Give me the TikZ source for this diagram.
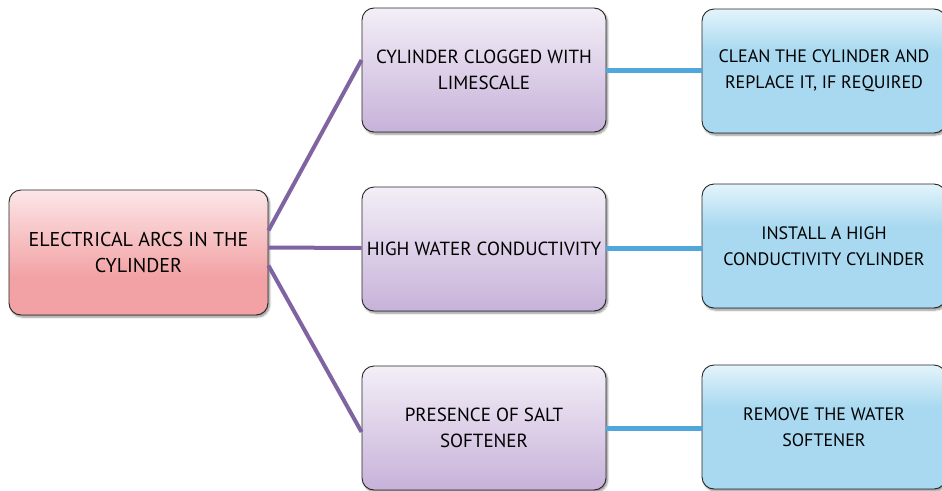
\documentclass[tikz,border=0pt]{standalone}
\usepackage{fontspec}
\setmainfont{PT Sans}
\usetikzlibrary{shadows.blur}

\definecolor{rootTop}{HTML}{FCE6E8}
\definecolor{rootBot}{HTML}{F2A2A4}
\definecolor{causeTop}{HTML}{F3EEF7}
\definecolor{causeBot}{HTML}{C7B2D9}
\definecolor{fixTop}{HTML}{E4F4FB}
\definecolor{fixBot}{HTML}{A8D9F0}
\definecolor{causeLine}{HTML}{8064A2}
\definecolor{fixLine}{HTML}{4FA7DC}

% light band on top, flat colour below
\pgfdeclareverticalshading{fixshade}{100bp}{color(0bp)=(fixBot); color(58bp)=(fixBot); color(75bp)=(fixTop); color(100bp)=(fixTop)}
\pgfdeclareverticalshading{rootshade}{100bp}{color(0bp)=(rootBot); color(40bp)=(rootBot); color(75bp)=(rootTop); color(100bp)=(rootTop)}

\begin{document}
\begin{tikzpicture}[x=1pt,y=-1pt]
  \tikzset{box/.style = {draw=black!85, line width=0.9pt, rounded corners=12pt,
      minimum width=244pt, minimum height=124pt, align=center, inner sep=2pt,
      font=\fontsize{19}{26}\selectfont,
      blur shadow={shadow xshift=1.5pt, shadow yshift=-2pt, shadow blur steps=6, shadow opacity=45}}}
  \tikzset{rootbox/.style = {box, shading=rootshade, minimum width=259pt, minimum height=125pt,
      font=\fontsize{20}{26}\selectfont}}
  \tikzset{cause/.style = {box, top color=causeTop, bottom color=causeBot}}
  \tikzset{fixbox/.style = {box, shading=fixshade, font=\fontsize{18}{26}\selectfont}}
  \tikzset{tocause/.style = {causeLine, line width=4pt}}
  \tikzset{tofix/.style = {fixLine, line width=5pt}}

  \useasboundingbox (0,0) rectangle (942,490);

\node[rootbox] (arcs) at (138.5,252.5) {ELECTRICAL ARCS IN THE\\CYLINDER};

\node[cause] (clog) at (484,70) {CYLINDER CLOGGED WITH\\LIMESCALE};
\node[cause] (cond) at (484,249) {HIGH WATER CONDUCTIVITY};
\node[cause] (salt) at (484,428) {PRESENCE OF SALT\\SOFTENER};

\node[fixbox] (clean) at (824,71) {CLEAN THE CYLINDER AND\\REPLACE IT, IF REQUIRED};
\node[fixbox] (install) at (824,246) {INSTALL A HIGH\\CONDUCTIVITY CYLINDER};
\node[fixbox] (remove) at (824,427) {REMOVE THE WATER\\SOFTENER};

  % causes
    \draw[tocause] ([yshift=22pt]arcs.east) -- ([yshift=10pt]clog.west);
    \draw[tocause] ([yshift=5pt]arcs.east) -- ([yshift=1pt]cond.west);
    \draw[tocause] ([yshift=-13pt]arcs.east) -- ([yshift=-4pt]salt.west);

  % remedies
    \draw[tofix] (clog.east) -- (clog.east -| clean.west);
    \draw[tofix] ([yshift=1pt]cond.east) -- ([yshift=1pt]cond.east -| install.west);
    \draw[tofix] (salt.east) -- (salt.east -| remove.west);

\end{tikzpicture}
\end{document}
